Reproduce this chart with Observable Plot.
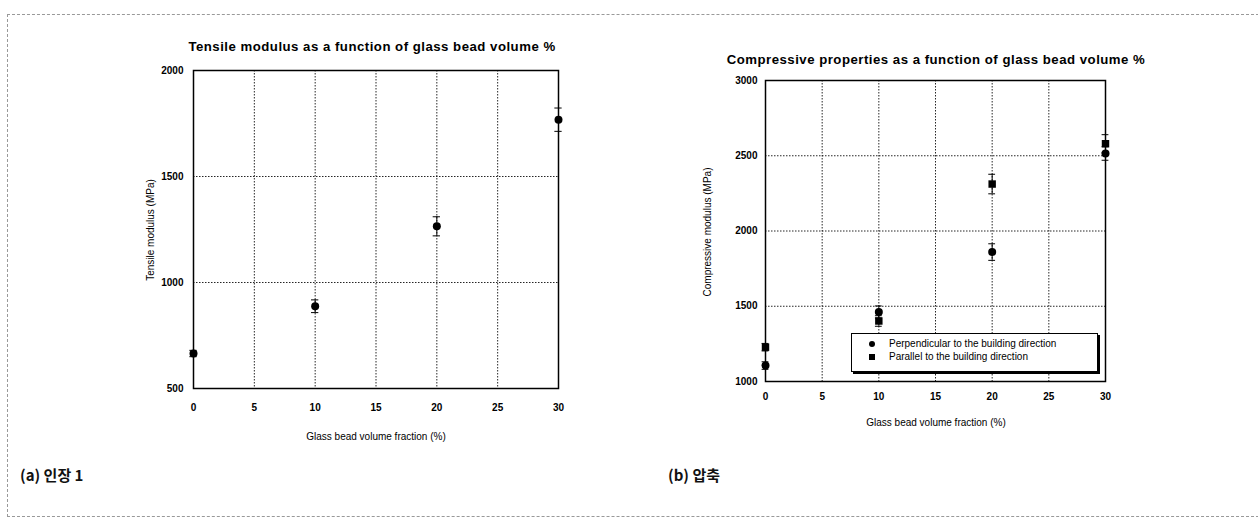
<!DOCTYPE html>
<html>
<head>
<meta charset="utf-8">
<script src="https://cdn.jsdelivr.net/npm/d3@7"></script>
<script src="https://cdn.jsdelivr.net/npm/@observablehq/plot@0.6"></script>
<style>
  html, body { margin: 0; padding: 0; background: #fff; }
  #page { position: relative; width: 1258px; height: 518px; overflow: hidden; font-family: "Liberation Sans", Arial, sans-serif; }
  .abs { position: absolute; }
  .title { font-weight: bold; font-size: 13.2px; color: #000; white-space: nowrap; transform: translateX(-50%); letter-spacing: 0.5px; }
  .xlab { font-size: 10px; color: #000; white-space: nowrap; transform: translateX(-50%); }
  .ylab { font-size: 10px; color: #000; white-space: nowrap; transform: translate(-50%, -50%) rotate(-90deg); }
  .cap { font-family: "Noto Sans CJK KR", sans-serif; font-size: 15px; font-weight: 700; color: #111; white-space: nowrap; }
  #border { left: 7px; top: 14px; width: 1270px; height: 501px; border: 1px dashed #999; }
  #legend { left: 851px; top: 333px; width: 245px; height: 37px; border: 1px solid #000; box-shadow: 2px 2px 0 #000; background: #fff; font-size: 10px; color: #000; }
  .lrow { position: absolute; left: 0; white-space: nowrap; }
  .sym { position: absolute; left: 17px; width: 6px; height: 6px; background: #000; }
  .ltxt { position: absolute; left: 37px; }
</style>
</head>
<body>
<div id="page">
  <div id="border" class="abs"></div>
</div>
<script>
// ---- data ----
const fractions = [0, 10, 20, 30];
const tensile = [665, 888, 1265, 1768];
const tensileErr = [15, 30, 45, 55];
const compPerp = [1106, 1462, 1860, 2515];
const compPerpErr = [25, 40, 55, 45];
const compPar = [1228, 1402, 2312, 2580];
const compParErr = [25, 35, 65, 60];
const xTicks = [0, 5, 10, 15, 20, 25, 30];
const tensileTicks = [500, 1000, 1500, 2000];
const compTicks = [1000, 1500, 2000, 2500, 3000];
const seriesNames = ["Perpendicular to the building direction", "Parallel to the building direction"];

const tensileData = fractions.map((x, i) => ({x, y: tensile[i], e: tensileErr[i]}));
const perpData = fractions.map((x, i) => ({x, y: compPerp[i], e: compPerpErr[i]}));
const parData = fractions.map((x, i) => ({x, y: compPar[i], e: compParErr[i]}));

const page = document.getElementById("page");
function place(el, left, top) {
  el.style.position = "absolute"; el.style.left = left + "px"; el.style.top = top + "px";
  page.appendChild(el);
}
function div(cls, text, left, top) {
  const d = document.createElement("div");
  d.className = "abs " + cls; d.textContent = text;
  d.style.left = left + "px"; d.style.top = top + "px";
  page.appendChild(d); return d;
}

function errMarks(data, capW) {
  return [
    Plot.ruleX(data, {x: "x", y1: d => d.y - d.e, y2: d => d.y + d.e, stroke: "#000", strokeWidth: 1}),
    Plot.ruleY(data, {y: d => d.y - d.e, x1: d => d.x - capW, x2: d => d.x + capW, stroke: "#000", strokeWidth: 1}),
    Plot.ruleY(data, {y: d => d.y + d.e, x1: d => d.x - capW, x2: d => d.x + capW, stroke: "#000", strokeWidth: 1})
  ];
}
const plainFmt = d => String(d);
const plotStyle = {fontFamily: "Liberation Sans, Arial, sans-serif", fontSize: "10px", fontWeight: "bold", color: "#000", background: "transparent"};

// ---- left chart (tensile) ----
const left = Plot.plot({
  width: 480, height: 430,
  marginLeft: 93, marginRight: 22, marginTop: 40, marginBottom: 72,
  style: plotStyle,
  x: {domain: [0, 30], ticks: xTicks, tickFormat: plainFmt, tickSize: 0, tickPadding: 15, label: null},
  y: {domain: [500, 2000], ticks: tensileTicks, tickFormat: plainFmt, tickSize: 0, tickPadding: 10, label: null},
  marks: [
    Plot.gridX(xTicks, {stroke: "#000", strokeOpacity: 0.85, strokeDasharray: "1.5,1.5"}),
    Plot.gridY(tensileTicks, {stroke: "#000", strokeOpacity: 0.85, strokeDasharray: "1.5,1.5"}),
    Plot.frame({stroke: "#000", strokeWidth: 1.5}),
    ...errMarks(tensileData, 0.3),
    Plot.dot(tensileData, {x: "x", y: "y", r: 4, fill: "#000", symbol: "circle"})
  ]
});
place(left, 100, 30);

// ---- right chart (compressive) ----
const right = Plot.plot({
  width: 450, height: 380,
  marginLeft: 85, marginRight: 25, marginTop: 30, marginBottom: 49,
  style: plotStyle,
  x: {domain: [0, 30], ticks: xTicks, tickFormat: plainFmt, tickSize: 0, tickPadding: 11, label: null},
  y: {domain: [1000, 3000], ticks: compTicks, tickFormat: plainFmt, tickSize: 0, tickPadding: 8, label: null},
  symbol: {domain: seriesNames, range: ["circle", "square"]},
  marks: [
    Plot.gridX(xTicks, {stroke: "#000", strokeOpacity: 0.85, strokeDasharray: "1.5,1.5"}),
    Plot.gridY(compTicks, {stroke: "#000", strokeOpacity: 0.85, strokeDasharray: "1.5,1.5"}),
    Plot.frame({stroke: "#000", strokeWidth: 1.5}),
    ...errMarks(perpData, 0.3),
    ...errMarks(parData, 0.3),
    Plot.dot(perpData, {x: "x", y: "y", r: 4, fill: "#000", symbol: () => seriesNames[0]}),
    Plot.dot(parData, {x: "x", y: "y", r: 4.2, fill: "#000", symbol: () => seriesNames[1]})
  ]
});
place(right, 680, 50);

// ---- titles and axis labels ----
div("title", "Tensile modulus as a function of glass bead volume %", 372, 39);
div("title", "Compressive properties as a function of glass bead volume %", 936, 52);
div("xlab", "Glass bead volume fraction (%)", 376, 431);
div("xlab", "Glass bead volume fraction (%)", 936, 417);
div("ylab", "Tensile modulus (MPa)", 150, 230);
div("ylab", "Compressive modulus (MPa)", 707, 232);

// ---- legend ----
const lg = document.createElement("div");
lg.id = "legend"; lg.className = "abs";
seriesNames.forEach((name, i) => {
  const row = document.createElement("div");
  row.className = "lrow"; row.style.top = (4 + i * 13) + "px";
  const s = document.createElement("span");
  s.className = "sym"; s.style.top = "3px";
  if (i === 0) s.style.borderRadius = "50%";
  const t = document.createElement("span");
  t.className = "ltxt"; t.textContent = name;
  row.appendChild(s); row.appendChild(t); lg.appendChild(row);
});
page.appendChild(lg);

// ---- captions ----
div("cap", "(a) 인장 1", 20, 464);
div("cap", "(b) 압축", 668, 464);
</script>
</body>
</html>
